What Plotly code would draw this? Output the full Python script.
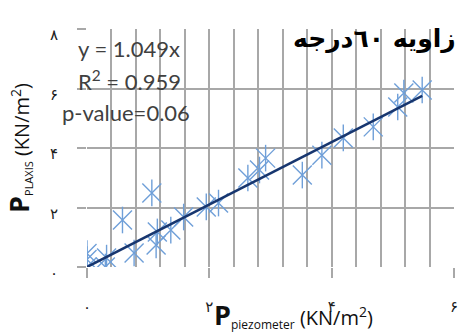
import plotly.graph_objects as go

# data
x_vals = [0.0, 0.0, 0.0, 0.3, 0.32, 0.77, 0.58, 1.06, 1.13, 1.15, 1.37, 1.58, 1.95, 2.15,
          2.63, 2.82, 2.92, 3.52, 3.84, 4.19, 4.68, 5.08, 5.18, 5.48]
y_vals = [0.0, 0.25, 0.45, 0.0, 0.3, 0.47, 1.58, 2.49, 0.74, 1.18, 1.24, 1.68, 2.02, 2.15,
          2.99, 3.26, 3.66, 3.09, 3.76, 4.34, 4.71, 5.38, 5.85, 5.95]
slope = 1.049
x_ticks = [0, 2, 4, 6]
x_ticktext = ["۰", "۲", "۴", "۶"]
y_ticks = [0, 2, 4, 6, 8]
y_ticktext = ["۰", "۲", "۴", "۶", "۸"]
title_text = "زاویه ٦٠درجه"
eq_lines = ["y = 1.049x", "R<sup>2</sup> = 0.959", "p-value=0.06"]

marker_color = "#6F9FD8"
fig = go.Figure()
fig.add_trace(go.Scatter(x=x_vals, y=y_vals, mode="markers",
                         marker=dict(symbol="x-thin-open", size=19, color=marker_color,
                                     line=dict(width=1.4, color=marker_color)),
                         showlegend=False, hoverinfo="skip"))
fig.add_trace(go.Scatter(x=x_vals, y=y_vals, mode="markers",
                         marker=dict(symbol="line-ns-open", size=19, color=marker_color,
                                     line=dict(width=1.4, color=marker_color)),
                         showlegend=False, hoverinfo="skip"))
xmax = max(x_vals)
fig.add_trace(go.Scatter(x=[0, xmax], y=[0, slope * xmax], mode="lines",
                         line=dict(color="#17366F", width=2.5),
                         showlegend=False, hoverinfo="skip"))

grid_col = "#A8A8A8"
fig.update_layout(
    width=465, height=333,
    margin=dict(l=87, r=7, t=29, b=66),
    paper_bgcolor="white", plot_bgcolor="white",
    font=dict(family="DejaVu Sans", color="#404040"),
    xaxis=dict(range=[0, 6], tickvals=x_ticks, ticktext=x_ticktext,
               showgrid=True, gridcolor=grid_col, gridwidth=1.5,
               minor=dict(dtick=0.4, tick0=0, showgrid=True, gridcolor=grid_col, gridwidth=1.5, ticks=""),
               ticks="outside", ticklen=10, tickwidth=1.5, tickcolor=grid_col,
               ticklabelstandoff=16,
               tickfont=dict(size=15, color="#202020"),
               zeroline=False, showline=False),
    yaxis=dict(range=[0, 8], tickvals=y_ticks, ticktext=y_ticktext,
               showgrid=True, gridcolor=grid_col, gridwidth=1.5,
               ticks="outside", ticklen=9, tickwidth=1.5, tickcolor=grid_col,
               ticklabelstandoff=16, ticklabelshift=6,
               tickfont=dict(size=15, color="#202020"),
               zeroline=False, showline=False,
               title=dict(text="<span style='font-size:27px'><b>P</b></span><sub><span style='font-size:11px'>PLAXIS</span></sub> (KN/m<sup>2</sup>)",
                          font=dict(size=20, color="#101010", family="Open Sans"), standoff=28)),
)

# equation text
for i, t in enumerate(eq_lines):
    fig.add_annotation(xref="paper", yref="paper", x=(76 - 87) / 371 if i < 2 else (60 - 87) / 371,
                       y=1, yshift=-19 - 32 * i, xanchor="left", yanchor="middle",
                       text=t, showarrow=False,
                       font=dict(size=22, color="#404040", family="Lato"))

fig.add_annotation(xref="paper", yref="paper", x=1, xshift=4, y=1, yshift=-10,
                   xanchor="right", yanchor="middle", text=f"<b>{title_text}</b>",
                   showarrow=False, font=dict(size=25, color="black", family="DejaVu Sans"))

fig.add_annotation(xref="paper", yref="paper", x=(213 - 87) / 371, y=0, yshift=-47,
                   xanchor="left", yanchor="middle",
                   text="<span style='font-size:27px'><b>P</b></span><sub><span style='font-size:12px'>piezometer</span></sub> (KN/m<sup>2</sup>)",
                   showarrow=False, font=dict(size=20, color="#101010", family="Open Sans"))

fig.write_html("out.html")
